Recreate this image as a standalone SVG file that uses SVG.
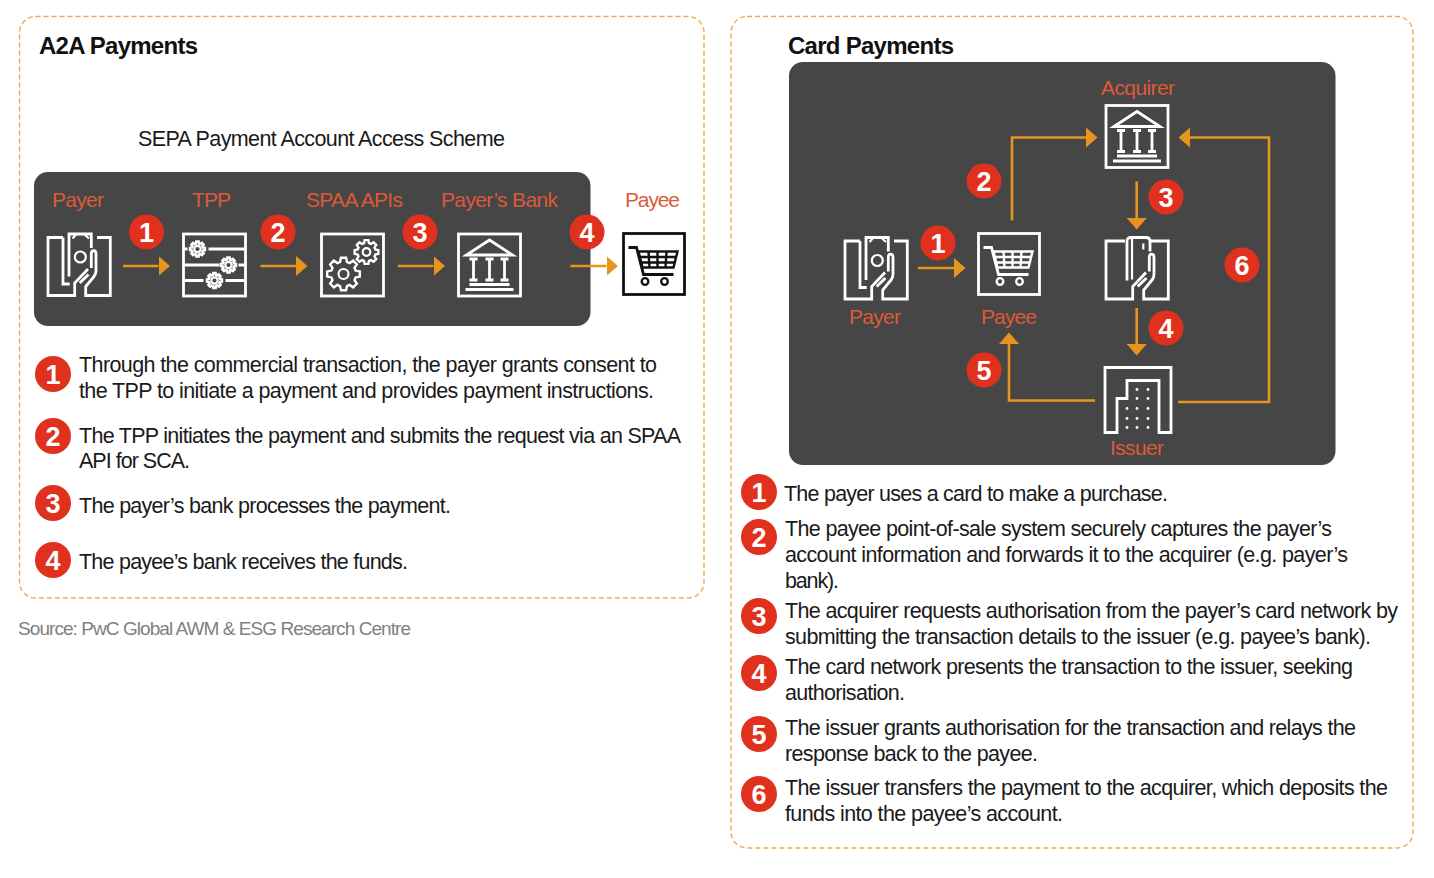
<svg xmlns="http://www.w3.org/2000/svg" xmlns:xlink="http://www.w3.org/1999/xlink" width="1434" height="878" viewBox="0 0 1434 878">
<style>
text{font-family:"Liberation Sans",Arial,sans-serif}
.frame{fill:none;stroke:#edaa55;stroke-width:1.4;stroke-dasharray:5 3}
.panel{fill:#464646}
.h{font-size:24px;font-weight:bold;fill:#111}
.t{font-size:21.5px;fill:#1a1a1a}
.src{font-size:19px;fill:#7f7f7f}
.lab{font-size:21px;fill:#dc5a38;text-anchor:middle}
.dot{fill:#e0301e}
.num{font-size:27px;font-weight:bold;fill:#fff;text-anchor:middle}
.ln{fill:none;stroke:#e8951f;stroke-width:2.6}
.ar{marker-end:url(#head)}
.ic{fill:none;stroke:#fff;stroke-width:2.8}
.ic2{fill:none;stroke:#fff;stroke-width:2.2}
.w{fill:#fff;stroke:none}
.g{vector-effect:non-scaling-stroke}
</style>
<defs>
<marker id="head" markerUnits="userSpaceOnUse" markerWidth="12" markerHeight="20" refX="0" refY="10" orient="auto"><path d="M0 0L11.5 10L0 20Z" fill="#e8951f"/></marker>
<path id="gear" class="g" d="M73.1-20.9L98.8-15.6L98.8 15.6L73.1 20.9L66.5 36.8L80.9 58.8L58.8 80.9L36.8 66.5L20.9 73.1L15.6 98.8L-15.6 98.8L-20.9 73.1L-36.8 66.5L-58.8 80.9L-80.9 58.8L-66.5 36.8L-73.1 20.9L-98.8 15.6L-98.8-15.6L-73.1-20.9L-66.5-36.8L-80.9-58.8L-58.8-80.9L-36.8-66.5L-20.9-73.1L-15.6-98.8L15.6-98.8L20.9-73.1L36.8-66.5L58.8-80.9L80.9-58.8L66.5-36.8Z"/>
<g id="hand" class="ic">
<path d="M16 4.500H1V62.500H27.700V50L41 36"/>
<path d="M50 4.500H63.300V62.500H38.700V53.500L47 43.500Q49 41 49 38V21C49 16.500 44.300 16.500 44.300 21V35"/>
<path d="M32.700 50L41.500 41.500"/>
</g>
<g id="i-cash">
<use xlink:href="#hand"/>
<path class="ic" d="M22.700 51H16V4.500"/>
<path class="ic" d="M22 43.500V1H44.300V15"/>
<path class="ic2" d="M25.500 5.500L29.500 1M37 1L42 5.500"/>
<circle class="ic2" cx="33.300" cy="24" r="5.500"/>
</g>
<g id="i-card">
<use xlink:href="#hand"/>
<path class="ic" d="M22 44V5Q22 1 26 1H41Q45 1 45 5V15"/>
<path class="ic2" d="M27 2V43M38.300 7V13"/>
<path class="ic" d="M16 4.500H20M45 4.500H50"/>
</g>
<g id="i-bank">
<rect class="ic" x="1" y="1" width="62" height="62"/>
<path class="ic" d="M9 22L32 7L55 22Z"/>
<path class="ic" d="M16 27V46M32 27V46M47 27V46M12 26H20M28 26H36M43 26H51M12 47H20M28 47H36M43 47H51M12 51.500H52M8 56.500H56"/>
</g>
<g id="i-cart-lines">
<path d="M6 15H14L21 42H51" fill="none" stroke="currentColor" stroke-width="2.800"/>
<path d="M16 19H55L51 35H20Z M18 24.500H54 M19 30H53 M26 19L27 35 M35 19V35 M44 19L43 35" fill="none" stroke="currentColor" stroke-width="2.400"/>
<circle cx="22.500" cy="49" r="3.300" fill="none" stroke="currentColor" stroke-width="2.300"/>
<circle cx="42" cy="49" r="3.300" fill="none" stroke="currentColor" stroke-width="2.300"/>
</g>
<g id="sgear"><use xlink:href="#gear" transform="scale(.075)" fill="none" stroke="#fff" stroke-width="2.600"/><circle r="3.200" fill="none" stroke="#fff" stroke-width="2.200"/></g>
</defs>
<rect width="1434" height="878" fill="#fff"/>

<g id="panel-a2a">
<rect class="frame" x="19.500" y="16.500" width="684.500" height="581.500" rx="16"/>
<text class="h" x="39" y="54" textLength="159">A2A Payments</text>
<text class="t" x="138" y="146" textLength="367">SEPA Payment Account Access Scheme</text>
<rect class="panel" x="34" y="172" width="556.500" height="154" rx="14"/>
</g>
<g id="panel-card">
<rect class="frame" x="731" y="16.500" width="682" height="831.500" rx="16"/>
<text class="h" x="788" y="54" textLength="166">Card Payments</text>
<rect class="panel" x="789" y="62" width="546.500" height="403" rx="14"/>
</g>

<g id="connectors">
<path class="ln ar" d="M123 266H158.500"/>
<path class="ln ar" d="M260.500 266H296"/>
<path class="ln ar" d="M398 266H433.500"/>
<path class="ln ar" d="M570.500 266H606.500"/>
<path class="ln ar" d="M918 268H954"/>
<path class="ln ar" d="M1012 220.500V137.500H1086"/>
<path class="ln ar" d="M1178 402H1269V137.500H1190"/>
<path class="ln ar" d="M1136.700 181.500V218"/>
<path class="ln ar" d="M1136.700 308V344"/>
<path class="ln ar" d="M1095 400.500H1009V344"/>
</g>

<g id="a2a-payer"><text class="lab" x="78" y="206.500" textLength="52">Payer</text><use xlink:href="#i-cash" transform="translate(47 233)"/></g>
<g id="a2a-tpp"><text class="lab" x="211.500" y="206.500" textLength="39">TPP</text>
<g transform="translate(182.500 233)"><rect class="ic" x="1" y="1" width="62" height="62"/>
<path class="ic" d="M1 16H5M26 16H63M1 32H37M56 32H63M1 47.500H21M43 47.500H63"/>
<use xlink:href="#sgear" x="15" y="16"/><use xlink:href="#sgear" x="46" y="32"/><use xlink:href="#sgear" x="32" y="47.500"/></g></g>
<g id="a2a-spaa"><text class="lab" x="354.500" y="206.500" textLength="97">SPAA APIs</text>
<g transform="translate(320.500 233)"><rect class="ic" x="1" y="1" width="62" height="62"/>
<use xlink:href="#gear" transform="translate(23 41) scale(.165)" fill="none" stroke="#fff" stroke-width="2.400"/><circle cx="23" cy="41" r="5" class="ic2"/>
<use xlink:href="#gear" transform="translate(46 19) scale(.12)" fill="none" stroke="#fff" stroke-width="2.400"/><circle cx="46" cy="19" r="3.800" class="ic2"/></g></g>
<g id="a2a-bank"><text class="lab" x="499.500" y="206.500" textLength="117">Payer’s Bank</text><use xlink:href="#i-bank" transform="translate(457.500 233)"/></g>
<g id="a2a-payee"><text class="lab" x="652.500" y="206.500" textLength="55">Payee</text>
<g transform="translate(622.500 232.500)" color="#111"><rect x="1" y="1" width="61" height="61" fill="#fff" stroke="#111" stroke-width="2.800"/><use xlink:href="#i-cart-lines"/></g></g>

<g id="card-payer"><use xlink:href="#i-cash" transform="translate(844 236.500)"/><text class="lab" x="875" y="324" textLength="52">Payer</text></g>
<g id="card-payee" color="#fff"><g transform="translate(977.500 232.500)"><rect class="ic" x="1" y="1" width="61" height="61"/><use xlink:href="#i-cart-lines"/></g><text class="lab" x="1009" y="324" textLength="56">Payee</text></g>
<g id="card-acquirer"><text class="lab" x="1138" y="95" textLength="74">Acquirer</text><use xlink:href="#i-bank" transform="translate(1105 104.500)"/></g>
<g id="card-network"><use xlink:href="#i-card" transform="translate(1105 236.500)"/></g>
<g id="card-issuer"><g transform="translate(1104 366.500)"><path class="ic" d="M1 66V1H67V66H55V14H23V32H13V66Z"/>
<g class="w"><circle cx="33" cy="23" r="1.400"/><circle cx="44" cy="23" r="1.400"/><circle cx="33" cy="32" r="1.400"/><circle cx="44" cy="32" r="1.400"/><circle cx="23" cy="42" r="1.400"/><circle cx="33" cy="42" r="1.400"/><circle cx="44" cy="42" r="1.400"/><circle cx="23" cy="52" r="1.400"/><circle cx="33" cy="52" r="1.400"/><circle cx="44" cy="52" r="1.400"/><circle cx="23" cy="61" r="1.400"/><circle cx="33" cy="61" r="1.400"/><circle cx="44" cy="61" r="1.400"/></g></g>
<text class="lab" x="1137" y="455" textLength="54">Issuer</text></g>

<g id="badges-a2a-flow">
<g transform="translate(146.500 232)"><circle class="dot" r="17.500"/><text class="num" y="9.500">1</text></g>
<g transform="translate(278 232)"><circle class="dot" r="17.500"/><text class="num" y="9.500">2</text></g>
<g transform="translate(420 232)"><circle class="dot" r="17.500"/><text class="num" y="9.500">3</text></g>
<g transform="translate(587 232)"><circle class="dot" r="17.500"/><text class="num" y="9.500">4</text></g>
</g>
<g id="badges-card-flow">
<g transform="translate(938 243)"><circle class="dot" r="17.500"/><text class="num" y="9.500">1</text></g>
<g transform="translate(984 181)"><circle class="dot" r="17.500"/><text class="num" y="9.500">2</text></g>
<g transform="translate(1166 197)"><circle class="dot" r="17.500"/><text class="num" y="9.500">3</text></g>
<g transform="translate(1166 328)"><circle class="dot" r="17.500"/><text class="num" y="9.500">4</text></g>
<g transform="translate(984 370)"><circle class="dot" r="17.500"/><text class="num" y="9.500">5</text></g>
<g transform="translate(1242 265)"><circle class="dot" r="17.500"/><text class="num" y="9.500">6</text></g>
</g>

<g id="a2a-step-1"><g transform="translate(53 374)"><circle class="dot" r="18"/><text class="num" y="9.500">1</text></g>
<text class="t" x="79" y="372" textLength="578">Through the commercial transaction, the payer grants consent to</text>
<text class="t" x="79" y="398" textLength="575">the TPP to initiate a payment and provides payment instructions.</text></g>
<g id="a2a-step-2"><g transform="translate(53 436)"><circle class="dot" r="18"/><text class="num" y="9.500">2</text></g>
<text class="t" x="79" y="443" textLength="602">The TPP initiates the payment and submits the request via an SPAA</text>
<text class="t" x="79" y="468" textLength="111">API for SCA.</text></g>
<g id="a2a-step-3"><g transform="translate(53 503)"><circle class="dot" r="18"/><text class="num" y="9.500">3</text></g>
<text class="t" x="79" y="513" textLength="372">The payer’s bank processes the payment.</text></g>
<g id="a2a-step-4"><g transform="translate(53 560)"><circle class="dot" r="18"/><text class="num" y="9.500">4</text></g>
<text class="t" x="79" y="569" textLength="329">The payee’s bank receives the funds.</text></g>
<text class="src" x="18" y="635" textLength="393">Source: PwC Global AWM &amp; ESG Research Centre</text>

<g id="card-step-1"><g transform="translate(759 492)"><circle class="dot" r="18"/><text class="num" y="9.500">1</text></g>
<text class="t" x="784" y="501" textLength="384">The payer uses a card to make a purchase.</text></g>
<g id="card-step-2"><g transform="translate(759 537)"><circle class="dot" r="18"/><text class="num" y="9.500">2</text></g>
<text class="t" x="785" y="536" textLength="547">The payee point-of-sale system securely captures the payer’s</text>
<text class="t" x="785" y="562" textLength="563">account information and forwards it to the acquirer (e.g. payer’s</text>
<text class="t" x="785" y="588" textLength="54">bank).</text></g>
<g id="card-step-3"><g transform="translate(759 616)"><circle class="dot" r="18"/><text class="num" y="9.500">3</text></g>
<text class="t" x="785" y="618" textLength="613">The acquirer requests authorisation from the payer’s card network by</text>
<text class="t" x="785" y="644" textLength="586">submitting the transaction details to the issuer (e.g. payee’s bank).</text></g>
<g id="card-step-4"><g transform="translate(759 673)"><circle class="dot" r="18"/><text class="num" y="9.500">4</text></g>
<text class="t" x="785" y="674" textLength="568">The card network presents the transaction to the issuer, seeking</text>
<text class="t" x="785" y="700" textLength="120">authorisation.</text></g>
<g id="card-step-5"><g transform="translate(759 734)"><circle class="dot" r="18"/><text class="num" y="9.500">5</text></g>
<text class="t" x="785" y="735" textLength="571">The issuer grants authorisation for the transaction and relays the</text>
<text class="t" x="785" y="761" textLength="253">response back to the payee.</text></g>
<g id="card-step-6"><g transform="translate(759 794)"><circle class="dot" r="18"/><text class="num" y="9.500">6</text></g>
<text class="t" x="785" y="795" textLength="603">The issuer transfers the payment to the acquirer, which deposits the</text>
<text class="t" x="785" y="821" textLength="278">funds into the payee’s account.</text></g>
</svg>
